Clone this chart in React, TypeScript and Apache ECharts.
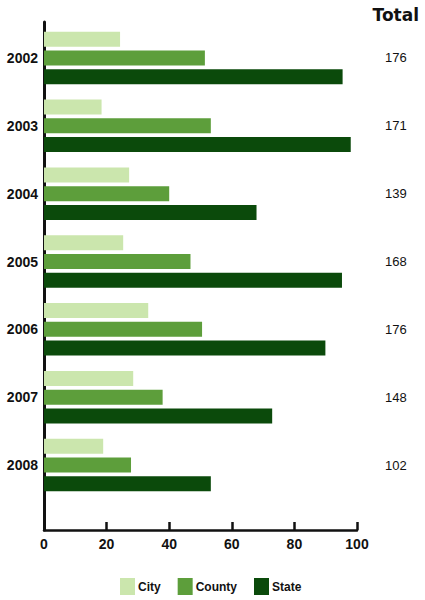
import React, { useEffect, useRef } from "react";
import * as echarts from "echarts";

const years = ["2002", "2003", "2004", "2005", "2006", "2007", "2008"];
const totals = ["176", "171", "139", "168", "176", "148", "102"];
const cityValues = [24.3, 18.4, 27.2, 25.3, 33.3, 28.5, 18.9];
const countyValues = [51.4, 53.3, 40, 46.8, 50.5, 37.9, 27.8];
const stateValues = [95.4, 98, 67.9, 95.2, 89.9, 72.9, 53.3];
const seriesNames = ["City", "County", "State"];
const colors = ["#cbe6ad", "#5d9e3b", "#0b4a0b"];

const FONT = "'Liberation Sans', Arial, sans-serif";

export default function App() {
  const ref = useRef<HTMLDivElement>(null);
  useEffect(() => {
    if (!ref.current) return;
    const chart = echarts.init(ref.current, undefined, { renderer: "svg" });
    const values = [cityValues, countyValues, stateValues];
    chart.setOption({
      animation: false,
      backgroundColor: "#ffffff",
      textStyle: { fontFamily: FONT },
      title: {
        text: "Total",
        right: 1,
        top: 1,
        textStyle: { fontFamily: "'DejaVu Sans', sans-serif", fontWeight: "bold", fontSize: 17, color: "#111" },
      },
      legend: {
        data: seriesNames,
        left: 120,
        top: 578,
        padding: 0,
        itemWidth: 15,
        itemHeight: 17,
        itemGap: 17,
        icon: "rect",
        textStyle: { fontFamily: FONT, fontWeight: "bold", fontSize: 12, color: "#111", padding: [0, 0, 0, -2] },
      },
      grid: [
        { left: 44, right: 68, top: 24, bottom: 101 },
        { left: 44, right: 68, top: 22, bottom: 70 },
      ],
      xAxis: [
        { type: "value", gridIndex: 0, min: 0, max: 100, show: false },
        {
          type: "value",
          gridIndex: 1,
          min: 0,
          max: 100,
          interval: 20,
          axisLine: { show: true, lineStyle: { color: "#111", width: 2.5 } },
          axisTick: { show: true, inside: true, length: 8, lineStyle: { color: "#111", width: 2.5 } },
          axisLabel: { fontFamily: FONT, fontWeight: "bold", fontSize: 14, color: "#111", margin: 7 },
          splitLine: { show: false },
        },
      ],
      yAxis: [
        {
          type: "category",
          gridIndex: 0,
          data: years,
          inverse: true,
          axisLine: { show: false },
          axisTick: { show: false },
          axisLabel: { fontFamily: FONT, fontWeight: "bold", fontSize: 14, color: "#111", margin: 6 },
        },
        {
          type: "category",
          gridIndex: 0,
          data: totals,
          inverse: true,
          position: "right",
          axisLine: { show: false },
          axisTick: { show: false },
          axisLabel: { fontFamily: FONT, fontSize: 13, color: "#111", margin: 28 },
        },
        {
          type: "value",
          gridIndex: 1,
          min: 0,
          max: 1,
          axisLine: { show: true, lineStyle: { color: "#111", width: 3 } },
          axisTick: { show: false },
          axisLabel: { show: false },
          splitLine: { show: false },
        },
      ],
      series: seriesNames.map((name, i) => ({
        name,
        type: "bar",
        xAxisIndex: 0,
        yAxisIndex: 0,
        data: values[i],
        barWidth: 15,
        barGap: "25%",
        itemStyle: { color: colors[i] },
      })),
    });
    return () => chart.dispose();
  }, []);
  return (
    <div
      ref={ref}
      style={{ position: "absolute", left: 0, top: 0, width: 425, height: 600 }}
    />
  );
}
